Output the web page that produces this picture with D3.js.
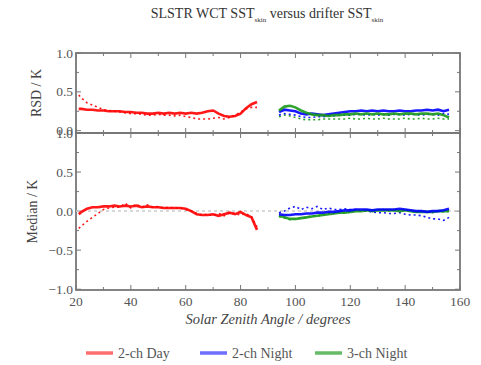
<!DOCTYPE html>
<html><head><meta charset="utf-8">
<script src="https://cdn.jsdelivr.net/npm/d3@7"></script>
<style>body{margin:0;background:#fff} text{font-family:"Liberation Serif","DejaVu Serif","Times New Roman",serif}</style>
</head><body><svg id="c" width="481" height="365"></svg>
<script>
const dayX = [21,22,24,26,28,30,32,34,36,38,40,42,44,46,48,50,52,54,56,58,60,62,64,66,68,70,72,74,76,78,80,82,84,86];
const nightX = [94,96,98,100,102,104,106,108,110,112,114,116,118,120,122,124,126,128,130,132,134,136,138,140,142,144,146,148,150,152,154,156];

const rsdDay = [0.28,0.28,0.27,0.27,0.26,0.26,0.25,0.25,0.25,0.24,0.24,0.23,0.23,0.22,0.22,0.23,0.22,0.23,0.22,0.23,0.22,0.23,0.22,0.23,0.25,0.26,0.22,0.19,0.18,0.19,0.22,0.29,0.34,0.37];
const rsdDayAlt = [0.46,0.42,0.36,0.33,0.30,0.27,0.26,0.25,0.24,0.23,0.22,0.22,0.21,0.20,0.20,0.21,0.20,0.20,0.19,0.20,0.18,0.17,0.15,0.15,0.15,0.16,0.17,0.15,0.17,0.20,0.24,0.28,0.30,0.30];
const rsdN2 = [0.24,0.27,0.26,0.25,0.22,0.21,0.22,0.21,0.20,0.21,0.22,0.23,0.24,0.25,0.25,0.26,0.25,0.26,0.25,0.26,0.25,0.25,0.26,0.25,0.25,0.26,0.26,0.27,0.26,0.27,0.25,0.27];
const rsdN2Alt = [0.20,0.22,0.21,0.20,0.18,0.17,0.17,0.18,0.18,0.19,0.19,0.20,0.20,0.20,0.21,0.21,0.20,0.21,0.20,0.21,0.20,0.21,0.21,0.20,0.21,0.21,0.20,0.21,0.21,0.20,0.22,0.21];
const rsdN3 = [0.26,0.31,0.32,0.30,0.26,0.23,0.21,0.20,0.20,0.19,0.20,0.20,0.21,0.21,0.22,0.21,0.22,0.21,0.22,0.21,0.21,0.22,0.21,0.22,0.22,0.21,0.22,0.22,0.21,0.22,0.20,0.17];
const rsdN3Alt = [0.18,0.20,0.19,0.17,0.15,0.14,0.14,0.14,0.15,0.15,0.15,0.15,0.15,0.16,0.15,0.15,0.16,0.15,0.15,0.16,0.15,0.15,0.15,0.16,0.15,0.15,0.16,0.15,0.15,0.16,0.15,0.15];

const medDay = [-0.04,-0.01,0.03,0.05,0.05,0.06,0.06,0.07,0.06,0.07,0.06,0.07,0.05,0.06,0.05,0.05,0.04,0.04,0.04,0.04,0.03,0.00,-0.04,-0.05,-0.05,-0.04,-0.06,-0.04,-0.02,-0.04,-0.01,-0.05,-0.08,-0.24];
const medDayAlt = [-0.22,-0.19,-0.13,-0.08,-0.03,0.02,0.04,0.05,0.05,0.10,0.04,0.09,0.05,0.08,0.05,0.06,0.04,0.05,0.04,0.04,0.02,0.00,-0.03,-0.05,-0.04,-0.06,-0.03,-0.06,-0.02,-0.03,-0.05,-0.03,-0.08,-0.20];
const medN2 = [-0.04,-0.05,-0.05,-0.04,-0.04,-0.03,-0.03,-0.02,-0.02,-0.01,-0.01,0.00,0.01,0.01,0.02,0.02,0.02,0.01,0.02,0.02,0.02,0.02,0.03,0.02,0.01,0.00,0.00,-0.01,0.00,0.00,0.01,0.03];
const medN2Alt = [-0.02,0.00,0.04,0.06,0.02,0.05,0.03,0.06,0.02,0.04,0.02,0.02,0.03,0.02,0.02,0.00,0.00,-0.01,-0.02,-0.02,-0.03,-0.03,-0.02,-0.04,-0.05,-0.05,-0.06,-0.08,-0.10,-0.10,-0.12,-0.08];
const medN3 = [-0.06,-0.08,-0.10,-0.10,-0.09,-0.08,-0.07,-0.06,-0.05,-0.04,-0.03,-0.02,-0.02,-0.01,0.00,0.00,0.01,0.00,0.01,0.01,0.01,0.01,0.00,0.01,0.00,-0.01,-0.01,-0.01,-0.01,0.00,0.00,0.00];
const medN3Alt = [-0.07,-0.09,-0.11,-0.10,-0.09,-0.08,-0.06,-0.06,-0.05,-0.03,-0.03,-0.02,-0.01,-0.01,0.00,0.01,0.01,0.00,0.01,0.02,0.01,0.01,0.00,0.01,0.00,-0.01,0.00,-0.01,-0.02,0.00,-0.01,0.00];

const xTicks = [20,40,60,80,100,120,140,160];
const rsdTicks = [0.0,0.5,1.0];
const medTicks = [-1.0,-0.5,0.0,0.5,1.0];
const seriesNames = ["2-ch Day","2-ch Night","3-ch Night"];
const colors = ["#ff0000","#0000ff","#1a9a1a"];
const legendColors = ["#ff6e6e","#6e6eff","#66bb66"];

const svg = d3.select("#c");
const L = 76, R = 460, T1 = 53, B1 = 133, B2 = 290;
const x = d3.scaleLinear().domain([20,160]).range([L,R]);
const y1 = d3.scaleLinear().domain([-0.03,1.0]).range([B1,T1]);
const y2 = d3.scaleLinear().domain([-1.01,1.0]).range([B2,B1]);

function panel(y, top, bot, yMaj, yMin, labels){
  const g = svg.append("g");
  d3.range(20,161,10).forEach(v=>{
    const len = v%20===0?5:3;
    g.append("line").attr("x1",x(v)).attr("x2",x(v)).attr("y1",bot).attr("y2",bot-len).attr("stroke","#777");
    g.append("line").attr("x1",x(v)).attr("x2",x(v)).attr("y1",top).attr("y2",top+len).attr("stroke","#777");
  });
  yMin.forEach(v=>{
    const len = yMaj.includes(v)?5:3;
    g.append("line").attr("x1",L).attr("x2",L+len).attr("y1",y(v)).attr("y2",y(v)).attr("stroke","#777");
    g.append("line").attr("x1",R).attr("x2",R-len).attr("y1",y(v)).attr("y2",y(v)).attr("stroke","#777");
  });
  labels.forEach(v=>{
    g.append("text").attr("x",L-3).attr("y",y(v)+4.5).attr("text-anchor","end")
      .attr("font-size",13.5).attr("fill","#555").text(d3.format(".1f")(v));
  });
  g.append("rect").attr("x",L).attr("y",top).attr("width",R-L).attr("height",bot-top)
    .attr("fill","none").attr("stroke","#777").attr("stroke-width",1.8);
}
panel(y1,T1,B1,rsdTicks,[0,0.25,0.5,0.75,1.0],rsdTicks);
panel(y2,B1,B2,medTicks,[-1,-0.75,-0.5,-0.25,0,0.25,0.5,0.75,1],medTicks);

svg.append("line").attr("x1",L).attr("x2",R).attr("y1",y2(0)).attr("y2",y2(0))
  .attr("stroke","#cccccc").attr("stroke-width",1.5).attr("stroke-dasharray","3,3");

function draw(y, xs, vals, col, dashed){
  const line = d3.line().x((d,i)=>x(xs[i])).y(d=>y(d));
  svg.append("path").datum(vals).attr("d",line).attr("fill","none").attr("stroke",col)
    .attr("stroke-width",dashed?1.6:2.6).attr("stroke-dasharray",dashed?"2,3":null).attr("opacity",0.9);
}
draw(y1,dayX,rsdDayAlt,colors[0],true);
draw(y1,nightX,rsdN3Alt,colors[2],true);
draw(y1,nightX,rsdN2Alt,colors[1],true);
draw(y1,dayX,rsdDay,colors[0],false);
draw(y1,nightX,rsdN2,colors[1],false);
draw(y1,nightX,rsdN3,colors[2],false);
draw(y2,dayX,medDayAlt,colors[0],true);
draw(y2,nightX,medN3Alt,colors[2],true);
draw(y2,nightX,medN2Alt,colors[1],true);
draw(y2,dayX,medDay,colors[0],false);
draw(y2,nightX,medN3,colors[2],false);
draw(y2,nightX,medN2,colors[1],false);

xTicks.forEach(v=>{
  svg.append("text").attr("x",x(v)).attr("y",B2+16).attr("text-anchor","middle")
    .attr("font-size",13.5).attr("fill","#555").text(v);
});
svg.append("text").attr("x",(L+R)/2).attr("y",B2+34).attr("text-anchor","middle")
  .attr("font-size",14.5).attr("font-style","italic").attr("fill","#444")
  .text("Solar Zenith Angle / degrees");
svg.append("text").attr("transform",`translate(41,${(T1+B1)/2}) rotate(-90)`).attr("text-anchor","middle")
  .attr("font-size",14).attr("fill","#444").text("RSD / K");
svg.append("text").attr("transform",`translate(37,${(B1+B2)/2}) rotate(-90)`).attr("text-anchor","middle")
  .attr("font-size",14).attr("fill","#444").text("Median / K");

const t = svg.append("text").attr("x",267).attr("y",18).attr("text-anchor","middle")
  .attr("font-size",14).attr("fill","#333");
t.append("tspan").text("SLSTR WCT SST");
t.append("tspan").attr("font-size",7).attr("dy",4).text("skin");
t.append("tspan").attr("dy",-4).text(" versus drifter SST");
t.append("tspan").attr("font-size",7).attr("dy",4).text("skin");

const lx = [86,200,315];
seriesNames.forEach((n,i)=>{
  svg.append("line").attr("x1",lx[i]).attr("x2",lx[i]+27).attr("y1",353).attr("y2",353)
    .attr("stroke",legendColors[i]).attr("stroke-width",3.5);
  svg.append("text").attr("x",lx[i]+32).attr("y",357.5).attr("font-size",14)
    .attr("fill","#555").text(n);
});
</script></body></html>
